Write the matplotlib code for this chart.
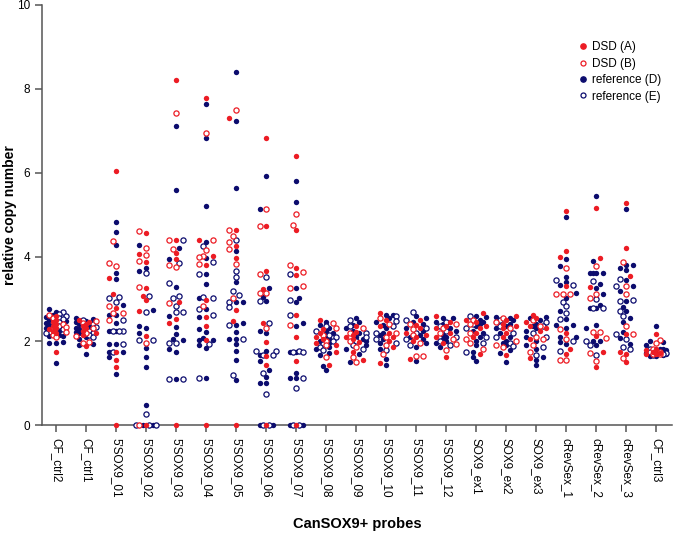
import numpy as np
import matplotlib
matplotlib.use('Agg')
import matplotlib.pyplot as plt
from matplotlib.lines import Line2D

plt.rcParams['font.family'] = ['Liberation Sans', 'DejaVu Sans']

# probes on the x axis
probes = ["CF_ctrl2", "CF_ctrl1", "5'SOX9_01", "5'SOX9_02", "5'SOX9_03", "5'SOX9_04",
          "5'SOX9_05", "5'SOX9_06", "5'SOX9_07", "5'SOX9_08", "5'SOX9_09", "5'SOX9_10",
          "5'SOX9_11", "5'SOX9_12", "SOX9_ex1", "SOX9_ex2", "SOX9_ex3",
          "cRevSex_1", "cRevSex_2", "cRevSex_3", "CF_ctrl3"]

# DSD (A) - red filled
dsd_a = [
    [2.6, 2.5, 2.45, 2.4, 2.35, 2.3, 2.28, 2.25, 2.2, 1.75],
    [2.5, 2.45, 2.4, 2.35, 2.3, 2.25, 2.2, 2.15, 1.88],
    [6.05, 3.51, 3.13, 2.79, 1.74, 1.55, 1.39, 0],
    [4.56, 4.06, 3.87, 3.25, 3.07, 2.97, 2.71, 2.13, 0],
    [8.21, 4.40, 4.10, 3.96, 2.94, 2.52, 2.42, 0],
    [7.79, 4.40, 4.03, 3.80, 2.98, 2.56, 2.36, 2.03, 0],
    [7.31, 4.64, 4.27, 3.98, 2.74, 2.48, 0],
    [6.84, 4.73, 3.67, 3.23, 2.42, 1.97, 1.65, 1.44, 0],
    [6.41, 4.65, 3.73, 3.56, 2.63, 2.09, 1.53, 0],
    [2.5, 2.28, 2.2, 2.1, 2.05, 1.95, 1.9, 1.75, 1.43],
    [2.35, 2.22, 2.15, 2.1, 2.05, 1.98, 1.75, 1.55],
    [2.67, 2.5, 2.35, 2.2, 2.1, 2.0, 1.85, 1.47],
    [2.5, 2.38, 2.3, 2.2, 2.15, 2.1, 2.0, 1.58],
    [2.6, 2.45, 2.35, 2.3, 2.2, 2.1, 1.95, 1.63],
    [2.67, 2.5, 2.45, 2.35, 2.3, 2.2, 2.1, 1.69],
    [2.6, 2.5, 2.4, 2.35, 2.3, 2.2, 2.1, 1.67],
    [2.62, 2.55, 2.45, 2.35, 2.3, 2.25, 2.05, 1.59],
    [5.10, 4.14, 4.01, 3.30, 2.20, 1.80, 1.69],
    [5.17, 3.97, 3.28, 2.13, 1.75, 1.39],
    [5.29, 4.22, 3.55, 2.17, 1.75, 1.69, 1.49],
    [2.16, 1.8, 1.78, 1.75, 1.72, 1.7, 1.68],
]

# DSD (B) - red open
dsd_b = [
    [2.62, 2.55, 2.4, 2.33, 2.22, 2.15, 2.1],
    [2.48, 2.42, 2.3, 2.2, 2.12, 1.97, 1.95],
    [4.39, 3.86, 3.79, 2.84, 2.67, 2.67, 2.5],
    [4.61, 4.22, 4.04, 3.90, 3.29, 1.96, 0],
    [7.42, 4.40, 4.20, 3.82, 3.76, 2.91],
    [6.96, 4.40, 4.17, 4.03, 4.00, 3.83, 2.84],
    [7.49, 4.64, 4.50, 4.35, 4.18, 3.83, 3.03],
    [5.15, 4.73, 3.60, 3.14, 3.14, 2.32],
    [5.02, 4.75, 3.80, 3.64, 3.32, 3.26, 2.37],
    [2.43, 2.3, 2.15, 2.0, 1.9, 1.63],
    [2.3, 2.2, 2.0, 1.85, 1.62, 1.51],
    [2.55, 2.4, 2.2, 2.1, 1.9, 1.69],
    [2.4, 2.28, 2.15, 1.95, 1.65, 1.65],
    [2.4, 2.3, 2.2, 2.05, 1.92, 1.79],
    [2.5, 2.4, 2.2, 2.05, 1.95, 1.8],
    [2.55, 2.45, 2.3, 2.0, 1.9, 1.85],
    [2.5, 2.35, 2.1, 2.05, 1.9, 1.75],
    [3.73, 3.13, 3.13, 3.13, 2.28, 2.04, 1.55, 1.55],
    [3.79, 3.13, 3.03, 2.22, 2.22, 2.08, 1.72, 1.52],
    [3.89, 3.31, 3.13, 2.36, 2.17, 1.59],
    [2.02, 1.96, 1.8, 1.75, 1.7, 1.68],
]

# reference (D) - navy filled
ref_d = [
    [2.75, 2.7, 2.62, 2.58, 2.5, 2.47, 2.42, 2.38, 2.3, 2.25, 2.15, 2.13, 2.13, 1.97, 1.96, 1.96, 1.48],
    [2.55, 2.53, 2.48, 2.45, 2.4, 2.35, 2.3, 2.28, 2.22, 2.18, 2.1, 2.05, 1.93, 1.91, 1.69],
    [4.83, 4.60, 4.29, 3.63, 3.48, 2.86, 2.63, 2.63, 2.42, 2.24, 2.24, 1.94, 1.94, 1.74, 1.74, 1.62, 1.21],
    [4.28, 3.74, 3.67, 2.74, 2.36, 2.31, 2.18, 1.84, 1.63, 1.39, 0.48, 0, 0],
    [7.12, 5.59, 4.22, 3.96, 3.29, 2.60, 2.34, 2.17, 2.04, 2.02, 1.80, 1.75, 1.09],
    [7.65, 6.82, 5.21, 4.36, 3.98, 3.60, 3.36, 3.02, 2.75, 2.56, 2.29, 2.21, 2.08, 2.03, 2.03, 1.90, 1.84, 1.12],
    [8.39, 7.23, 5.63, 4.14, 3.40, 2.94, 2.92, 2.42, 2.38, 2.21, 2.05, 2.05, 1.93, 1.77, 1.55, 1.08],
    [5.93, 5.15, 3.26, 3.05, 2.95, 2.25, 2.19, 1.77, 1.66, 1.52, 1.32, 1.15, 1.0, 1.0, 0, 0],
    [5.81, 5.31, 3.25, 3.03, 2.93, 2.44, 2.36, 1.74, 1.74, 1.25, 1.12, 1.12, 0, 0],
    [2.46, 2.38, 2.3, 2.25, 2.2, 2.12, 2.05, 2.0, 1.95, 1.85, 1.8, 1.72, 1.67, 1.4, 1.31],
    [2.54, 2.45, 2.38, 2.3, 2.25, 2.18, 2.1, 2.05, 2.0, 1.9, 1.82, 1.7, 1.51],
    [2.63, 2.62, 2.55, 2.45, 2.38, 2.3, 2.2, 2.15, 2.05, 1.95, 1.8, 1.58, 1.43],
    [2.6, 2.55, 2.45, 2.4, 2.3, 2.25, 2.15, 2.1, 2.05, 1.95, 1.85, 1.53],
    [2.55, 2.55, 2.45, 2.4, 2.32, 2.25, 2.15, 2.1, 2.05, 2.0, 1.95, 1.85],
    [2.6, 2.58, 2.5, 2.45, 2.4, 2.35, 2.25, 2.2, 2.1, 2.0, 1.9, 1.75, 1.61, 1.52],
    [2.58, 2.55, 2.5, 2.4, 2.35, 2.3, 2.2, 2.1, 2.0, 1.95, 1.9, 1.78, 1.72, 1.5],
    [2.58, 2.55, 2.5, 2.4, 2.35, 2.3, 2.25, 2.1, 2.0, 1.9, 1.8, 1.62, 1.55, 1.43],
    [4.96, 3.94, 3.79, 3.53, 3.40, 3.33, 3.15, 3.03, 2.72, 2.52, 2.38, 2.38, 2.32, 2.10, 2.10, 1.98, 1.94],
    [5.44, 3.90, 3.61, 3.61, 3.61, 3.61, 3.35, 3.25, 3.13, 2.86, 2.78, 2.78, 2.38, 2.30, 2.01, 2.01, 1.90],
    [5.13, 3.80, 3.80, 3.74, 3.68, 3.45, 3.31, 3.20, 2.95, 2.80, 2.71, 2.54, 2.46, 2.22, 2.08, 1.92],
    [2.36, 2.0, 1.98, 1.9, 1.82, 1.8, 1.78, 1.76, 1.74, 1.72, 1.7, 1.68, 1.66, 1.65, 1.64],
]

# reference (E) - navy open
ref_e = [
    [2.68, 2.65, 2.6, 2.55, 2.52, 2.45, 2.35, 2.28, 2.2],
    [2.5, 2.4, 2.33, 2.25, 2.2, 2.15, 2.1],
    [3.05, 3.02, 2.94, 2.5, 2.24, 2.24, 2.24, 1.94, 1.74],
    [3.62, 3.07, 2.69, 2.02, 2.02, 0.26, 0, 0, 0],
    [4.40, 3.85, 3.37, 3.08, 3.02, 2.84, 2.69, 2.69, 1.95, 1.95, 1.09, 1.09],
    [4.27, 3.87, 3.60, 3.05, 3.02, 2.75, 2.62, 1.94, 1.12],
    [4.40, 3.67, 3.53, 3.18, 3.10, 2.92, 2.80, 2.38, 2.05, 1.19],
    [3.52, 2.95, 2.42, 1.77, 1.77, 1.66, 1.66, 1.25, 0.75, 0, 0],
    [3.60, 2.98, 2.63, 1.77, 1.74, 1.74, 1.12, 0.89, 0, 0],
    [2.35, 2.25, 2.15, 2.1, 2.0, 1.93, 1.85, 1.78],
    [2.49, 2.35, 2.2, 2.1, 2.0, 1.9, 1.8],
    [2.6, 2.48, 2.35, 2.2, 2.05, 1.95, 1.78],
    [2.7, 2.5, 2.3, 2.2, 2.05, 1.9],
    [2.45, 2.35, 2.25, 2.1, 2.0, 1.9],
    [2.6, 2.4, 2.3, 2.1, 1.95, 1.75],
    [2.5, 2.35, 2.2, 2.1, 1.95, 1.88],
    [2.45, 2.35, 2.2, 2.1, 1.85, 1.67],
    [3.44, 3.33, 2.94, 2.83, 2.66, 2.52, 2.00, 1.77],
    [3.43, 2.99, 2.78, 2.78, 2.01, 1.90, 1.67],
    [3.47, 3.31, 2.98, 2.95, 2.71, 2.60, 2.17, 2.05, 1.85, 1.80],
    [1.8, 1.75, 1.72, 1.7, 1.66],
]

red = '#ec1c24'
navy = '#0c0c6e'

fig = plt.figure(figsize=(6.75, 5.34), dpi=100)
ax = fig.add_axes([0.062, 0.204, 0.934, 0.787])
ax.set_xlim(-0.47, 20.53)
ax.set_ylim(0, 10)

# pixel scale so the swarm offsets avoid overlap on screen
fig.canvas.draw()
p0 = ax.transData.transform((0, 0))
p1 = ax.transData.transform((1, 1))
sx, sy = p1[0] - p0[0], p1[1] - p0[1]


def swarm(vals, step=0.11, kmax=3):
    # beeswarm limited to +-kmax slots; when crowded, accept some overlap
    order = np.argsort(vals, kind='stable')
    offs = np.zeros(len(vals))
    placed = []
    cands = [0.0]
    for k in range(1, kmax + 1):
        cands += [-k * step, k * step]
    for i in order:
        v = vals[i]
        best = None
        for thr in (5.0, 3.5, 2.2, 1.0, 0.0):
            for o in cands:
                dmin = min([np.hypot((o - po) * sx, (v - pv) * sy) for po, pv in placed] + [99])
                if dmin >= thr:
                    best = o
                    break
            if best is not None:
                break
        offs[i] = best
        placed.append((best, v))
    return offs


series = [dsd_a, dsd_b, ref_d, ref_e]
xs = [[], [], [], []]
ys = [[], [], [], []]
for c in range(len(probes)):
    vals = []
    lab = []
    for s in range(4):
        vals += series[s][c]
        lab += [s] * len(series[s][c])
    vals = np.array(vals, dtype=float)
    offs = swarm(vals)
    for v, o, s in zip(vals, offs, lab):
        xs[s].append(c + o)
        ys[s].append(v)

# draw navy first, red on top
ax.scatter(xs[2], ys[2], s=15, color=navy, linewidths=0, clip_on=False, zorder=3)
ax.scatter(xs[3], ys[3], s=14, facecolors='white', edgecolors=navy, linewidths=0.9, clip_on=False, zorder=3)
ax.scatter(xs[1], ys[1], s=14, facecolors='white', edgecolors=red, linewidths=0.9, clip_on=False, zorder=4)
ax.scatter(xs[0], ys[0], s=15, color=red, linewidths=0, clip_on=False, zorder=4)

ax.spines['top'].set_visible(False)
ax.spines['right'].set_visible(False)
for sp in ['left', 'bottom']:
    ax.spines[sp].set_color('#555555')
    ax.spines[sp].set_linewidth(1.1)

ax.set_xticks(range(len(probes)))
ax.set_xticklabels(probes, rotation=270, fontsize=8.5)
ax.set_yticks([0, 2, 4, 6, 8, 10])
ax.tick_params(axis='both', direction='out', length=5, width=1.1, color='#555555', labelsize=8.5)
ax.tick_params(axis='x', pad=4)

ax.set_ylabel('relative copy number', fontsize=10, fontweight='bold')
ax.yaxis.set_label_coords(-0.04, 0.5)
ax.set_xlabel('CanSOX9+ probes', fontsize=10.5, fontweight='bold', labelpad=14)

handles = [
    Line2D([], [], marker='o', linestyle='', markersize=3.8, markerfacecolor=red, markeredgecolor=red, label='DSD (A)'),
    Line2D([], [], marker='o', linestyle='', markersize=3.6, markerfacecolor='white', markeredgecolor=red, markeredgewidth=0.9, label='DSD (B)'),
    Line2D([], [], marker='o', linestyle='', markersize=3.8, markerfacecolor=navy, markeredgecolor=navy, label='reference (D)'),
    Line2D([], [], marker='o', linestyle='', markersize=3.6, markerfacecolor='white', markeredgecolor=navy, markeredgewidth=0.9, label='reference (E)'),
]
ax.legend(handles=handles, loc='upper left', bbox_to_anchor=(0.848, 0.934), bbox_transform=fig.transFigure,
          frameon=False, fontsize=8.5, handlelength=0.8, handletextpad=0.4, labelspacing=0.38, borderpad=0)

fig.savefig('out.png', dpi=100)
